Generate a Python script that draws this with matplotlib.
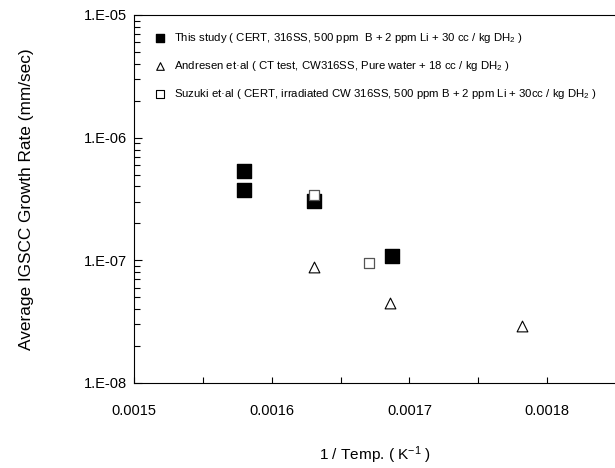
import numpy as np
import matplotlib.pyplot as plt
from matplotlib.ticker import MultipleLocator, LogLocator, NullFormatter, FixedLocator, FixedFormatter

plt.rcParams['font.family'] = ['Liberation Sans', 'DejaVu Sans']
plt.rcParams['mathtext.fontset'] = 'custom'
plt.rcParams['mathtext.rm'] = 'Liberation Sans'
plt.rcParams['mathtext.it'] = 'Liberation Sans'

# this study (filled squares)
this_x = [0.00158, 0.00158, 0.001631, 0.001687]
this_y = [5.3e-7, 3.75e-7, 3.07e-7, 1.09e-7]
# Andresen et al (open triangles)
andr_x = [0.001631, 0.001686, 0.001782]
andr_y = [8.9e-8, 4.5e-8, 2.9e-8]
# Suzuki et al (open squares)
suzu_x = [0.001631, 0.001671]
suzu_y = [3.4e-7, 9.5e-8]

labels = [
    "This study ( CERT, 316SS, 500 ppm  B + 2 ppm Li + 30 cc / kg DH$_2$ )",
    "Andresen et\u00b7al ( CT test, CW316SS, Pure water + 18 cc / kg DH$_2$ )",
    "Suzuki et\u00b7al ( CERT, irradiated CW 316SS, 500 ppm B + 2 ppm Li + 30cc / kg DH$_2$ )",
]

fig = plt.figure(figsize=(6.15, 4.68), dpi=100)
ax = fig.add_axes([134/615, 85/468, 482/615, 368/468])

ax.scatter(this_x, this_y, marker='s', s=90, color='black', zorder=3)
ax.scatter(andr_x, andr_y, marker='^', s=60, facecolor='white', edgecolor='black', linewidth=0.8, zorder=3)
ax.scatter(suzu_x, suzu_y, marker='s', s=50, facecolor='white', edgecolor='#555555', linewidth=0.9, zorder=4)

# legend drawn with small markers
h1 = ax.scatter([], [], marker='s', s=40, color='black')
h2 = ax.scatter([], [], marker='^', s=30, facecolor='white', edgecolor='black', linewidth=0.8)
h3 = ax.scatter([], [], marker='s', s=30, facecolor='white', edgecolor='black', linewidth=0.8)
ax.legend([h1, h2, h3], labels, loc='upper left', bbox_to_anchor=(0.02, 0.97),
          frameon=False, fontsize=8.2, handletextpad=0.3, labelspacing=1.25,
          borderaxespad=0)

ax.set_yscale('log')
ax.set_ylim(1e-8, 1e-5)
ax.set_xlim(0.0015, 0.00185)

ax.xaxis.set_major_locator(FixedLocator([0.0015, 0.0016, 0.0017, 0.0018]))
ax.xaxis.set_major_formatter(FixedFormatter(['0.0015', '0.0016', '0.0017', '0.0018']))
ax.xaxis.set_minor_locator(MultipleLocator(0.00005))
ax.yaxis.set_major_locator(FixedLocator([1e-8, 1e-7, 1e-6, 1e-5]))
ax.yaxis.set_major_formatter(FixedFormatter(['1.E-08', '1.E-07', '1.E-06', '1.E-05']))
ax.yaxis.set_minor_locator(LogLocator(base=10, subs=np.arange(2, 10)))
ax.yaxis.set_minor_formatter(NullFormatter())

ax.tick_params(axis='both', which='both', direction='in', labelsize=10.5, width=0.8)
ax.tick_params(axis='x', which='both', length=4, pad=15, top=False)
ax.tick_params(axis='y', which='major', length=6, pad=5, right=False)
ax.tick_params(axis='y', which='minor', length=4, right=False)

for sp in ax.spines.values():
    sp.set_linewidth(0.8)

ax.set_xlabel("1 / Temp. ( K$^{-1}$ )", fontsize=11.1, labelpad=19)
ax.set_ylabel("Average IGSCC Growth Rate (mm/sec)", fontsize=12.4, labelpad=36)

fig.savefig("out.png", dpi=100)
